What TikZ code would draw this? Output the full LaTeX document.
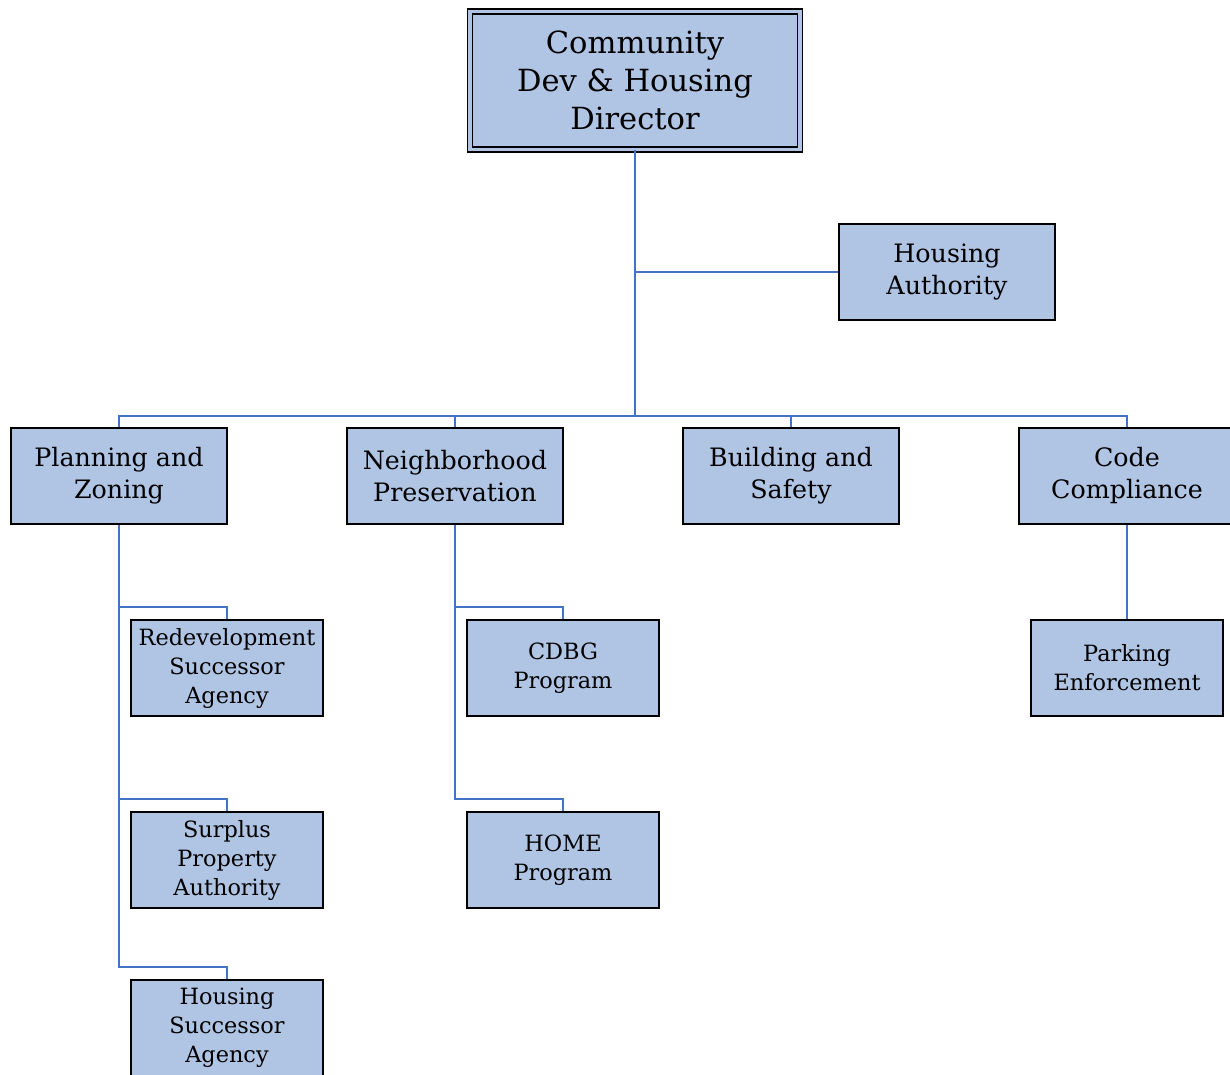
\documentclass[tikz,border=0pt]{standalone}
\usepackage{fontspec}
\setmainfont{DejaVu Serif}
\definecolor{boxfill}{HTML}{B0C4E4}
\definecolor{linkblue}{HTML}{4472C4}
\tikzset{
    unit/.style={draw, fill=boxfill, line width=1.1pt, align=center,
        minimum width=162pt, minimum height=72pt, inner sep=0pt,
        font=\fontsize{19}{24}\selectfont},
    subunit/.style={unit, minimum width=144pt,
        font=\fontsize{16.8}{21.75}\selectfont},
    head/.style={unit, double=boxfill, double distance=2.6pt, line width=1pt,
        minimum width=247.5pt, minimum height=103.5pt,
        font=\fontsize{22.9}{28.5}\selectfont},
    link/.style={draw=linkblue, line width=1.5pt}
}
\begin{document}
\begin{tikzpicture}[x=0.75pt, y=-0.75pt]
    \useasboundingbox (0,0) rectangle (1230,1074);

    % director and housing authority
    \node[head, name=dir] at (635,80.5) {Community\\Dev \& Housing\\Director};
    \node[unit, name=ha] at (947,272) {Housing\\Authority};

    % divisions
    \node[unit, name=pz] at (119,476) {Planning and\\Zoning};
    \node[unit, name=np] at (455,476) {Neighborhood\\Preservation};
    \node[unit, name=bs] at (791,476) {Building and\\Safety};
    \node[unit, name=cc] at (1127,476) {Code\\Compliance};

    % programs
    \node[subunit, name=rsa] at (227,668) {Redevelopment\\Successor\\Agency};
    \node[subunit, name=spa] at (227,860) {Surplus\\Property\\Authority};
    \node[subunit, name=hsa] at (227,1028) {Housing\\Successor\\Agency};
    \node[subunit, name=cdbg] at (563,668) {CDBG\\Program};
    \node[subunit, name=home] at (563,860) {HOME\\Program};
    \node[subunit, name=pe] at (1127,668) {Parking\\Enforcement};

    \coordinate (bus) at (635,416);

    \draw[link] (dir.south) -- (bus);
    \draw[link] (ha.west) -- (ha.west -| dir.south);

    \draw[link] (pz.north) |- (bus) -| (cc.north);
    \draw[link] (np.north) |- (bus);
    \draw[link] (bs.north) |- (bus);

    \foreach \c in {rsa,spa,hsa}
        \draw[link] (pz.south) |- ([yshift=9pt]\c.north) -- (\c.north);
    \foreach \c in {cdbg,home}
        \draw[link] (np.south) |- ([yshift=9pt]\c.north) -- (\c.north);
    \draw[link] (cc.south) -- (pe.north);
\end{tikzpicture}
\end{document}
